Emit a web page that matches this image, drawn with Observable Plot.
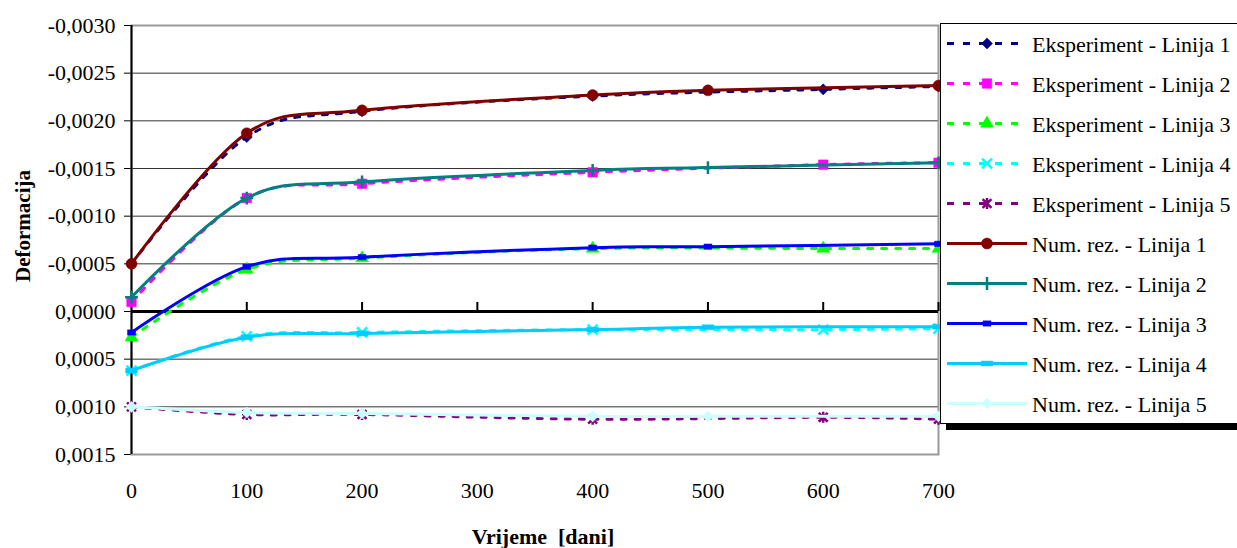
<!DOCTYPE html>
<html><head><meta charset="utf-8">
<script src="https://cdn.jsdelivr.net/npm/d3@7"></script>
<script src="https://cdn.jsdelivr.net/npm/@observablehq/plot@0.6"></script>
<style>
html,body{margin:0;padding:0;background:#fff;}
#chart{position:relative;width:1237px;height:548px;overflow:hidden;}
</style></head><body><div id="chart"></div>
<script>
// ---- data ----
const expDays = [0, 100, 200, 400, 600, 700];
const numDays = [0, 100, 200, 400, 500, 700];
const exp1 = [-0.00050, -0.00183, -0.00210, -0.00226, -0.00233, -0.00236];
const exp2 = [-0.00010, -0.00119, -0.00134, -0.00146, -0.00154, -0.00156];
const exp3 = [0.00027, -0.00044, -0.00056, -0.00066, -0.00066, -0.00066];
const exp4 = [0.00062, 0.00026, 0.00022, 0.00019, 0.00019, 0.00018];
const exp5 = [0.00100, 0.00108, 0.00108, 0.00113, 0.00111, 0.00113];
const num1 = [-0.00050, -0.00187, -0.00211, -0.00227, -0.00232, -0.00237];
const num2 = [-0.00015, -0.00119, -0.00136, -0.00148, -0.00151, -0.00156];
const num3 = [0.00022, -0.00047, -0.00057, -0.00067, -0.00068, -0.00071];
const num4 = [0.00062, 0.00027, 0.00023, 0.00019, 0.000165, 0.00016];
const num5 = [0.00100, 0.00106, 0.00107, 0.00110, 0.00110, 0.00110];
const seriesNames = [
  "Eksperiment - Linija 1", "Eksperiment - Linija 2", "Eksperiment - Linija 3",
  "Eksperiment - Linija 4", "Eksperiment - Linija 5",
  "Num. rez. - Linija 1", "Num. rez. - Linija 2", "Num. rez. - Linija 3",
  "Num. rez. - Linija 4", "Num. rez. - Linija 5"
];
const xTicks = [0, 100, 200, 300, 400, 500, 600, 700];
const yTicks = [-0.0030, -0.0025, -0.0020, -0.0015, -0.0010, -0.0005, 0, 0.0005, 0.0010, 0.0015];
const xLabel = "Vrijeme  [dani]";
const yLabel = "Deformacija";

// ---- styles ----
const symDash = {draw(c, s) {const k = Math.sqrt(s); const w = k * 0.6, h = k * 0.25;
  c.moveTo(-w, -h); c.lineTo(w, -h); c.lineTo(w, h); c.lineTo(-w, h); c.closePath();}};
const symSmall = {draw(c, s) {const k = Math.sqrt(s); const w = k * 0.45, h = k * 0.3;
  c.moveTo(-w, -h); c.lineTo(w, -h); c.lineTo(w, h); c.lineTo(-w, h); c.closePath();}};
const symAst = {draw(c, s) {const r = Math.sqrt(s) * 0.5;
  c.moveTo(-r, -r); c.lineTo(r, r); c.moveTo(r, -r); c.lineTo(-r, r);
  c.moveTo(0, -r * 1.25); c.lineTo(0, r * 1.25);}};
const styles = [
  {color: "#000080", dash: "5,9", sym: d3.symbolDiamond2, r: 5, filled: true},
  {color: "#FF00FF", dash: "5,9", sym: d3.symbolSquare, r: 5.4, filled: true},
  {color: "#00FF00", dash: "5,9", sym: d3.symbolTriangle, r: 4.8, filled: true},
  {color: "#00FFFF", dash: "5,9", sym: d3.symbolTimes, r: 4.6, filled: false},
  {color: "#800080", dash: "5,9", sym: symAst, r: 5, filled: false},
  {color: "#800000", dash: null, sym: d3.symbolCircle, r: 5.5, filled: true},
  {color: "#008080", dash: null, sym: d3.symbolPlus, r: 4.2, filled: false},
  {color: "#0000FF", dash: null, sym: symSmall, r: 5, filled: true},
  {color: "#00CCFF", dash: null, sym: symDash, r: 5.5, filled: true},
  {color: "#CCFFFF", dash: null, sym: d3.symbolDiamond2, r: 5, filled: true}
];
const values = [exp1, exp2, exp3, exp4, exp5, num1, num2, num3, num4, num5];
const series = values.map((v, i) => ({
  name: seriesNames[i],
  data: (i < 5 ? expDays : numDays).map((d, j) => ({day: d, v: v[j]})),
  ...styles[i]
}));
const curve = d3.curveCatmullRom.alpha(0);
const fmt = d => d.toFixed(4).replace(".", ",");

const marks = [
  Plot.ruleY(yTicks.filter(d => d !== 0 && d !== -0.0030 && d !== 0.0015), {stroke: "#333", strokeWidth: 1}),
  Plot.frame({stroke: "#999", strokeWidth: 2}),
  Plot.ruleY([0], {stroke: "#000", strokeWidth: 3}),
  Plot.ruleX(xTicks.slice(1), {x: d => d, y1: 0, y2: 0, insetTop: -9, stroke: "#000", strokeWidth: 2}),
  Plot.ruleX([0], {stroke: "#000", strokeWidth: 2})
];
for (const s of series) {
  marks.push(Plot.line(s.data, {x: "day", y: "v", stroke: s.color, strokeWidth: 3,
    strokeDasharray: s.dash || undefined, curve}));
  marks.push(Plot.dot(s.data, {x: "day", y: "v", symbol: s.sym, r: s.r,
    fill: s.filled ? s.color : "none", stroke: s.color, strokeWidth: s.filled ? 0.5 : 2.5}));
}

const svg = Plot.plot({
  width: 1237, height: 548,
  marginLeft: 131, marginRight: 299, marginTop: 25, marginBottom: 94,
  style: "font-family: 'Liberation Serif', 'Times New Roman', serif; font-size: 22px; background: #fff; color: #000; overflow: hidden;",
  x: {domain: [0, 700], ticks: xTicks, tickSize: 0, tickPadding: 28, label: null},
  y: {domain: [0.0015, -0.0030], ticks: yTicks, tickFormat: fmt, tickSize: 7, tickPadding: 9, label: null},
  marks
});
document.getElementById("chart").appendChild(svg);

// ---- axis titles and legend ----
const root = d3.select(svg);
root.append("text").attr("transform", "translate(30,226) rotate(-90)")
  .attr("text-anchor", "middle").attr("font-weight", "bold").attr("font-size", 21).text(yLabel);
root.append("text").attr("x", 543).attr("y", 544)
  .attr("text-anchor", "middle").attr("font-weight", "bold").attr("font-size", 22).text(xLabel);

const lg = root.append("g");
lg.append("rect").attr("x", 946).attr("y", 424).attr("width", 300).attr("height", 6).attr("fill", "#000");
lg.append("rect").attr("x", 940.5).attr("y", 23.5).attr("width", 310).attr("height", 400)
  .attr("fill", "#fff").attr("stroke", "#000").attr("stroke-width", 1);
series.forEach((s, i) => {
  const cy = 43.5 + 40 * i;
  lg.append("line").attr("x1", 947).attr("x2", 1027).attr("y1", cy).attr("y2", cy)
    .attr("stroke", s.color).attr("stroke-width", 3).attr("stroke-dasharray", s.dash ? "7,9" : null);
  lg.append("path").attr("transform", `translate(987,${cy})`)
    .attr("d", d3.symbol(s.sym, s.r * s.r * Math.PI)())
    .attr("fill", s.filled ? s.color : "none").attr("stroke", s.color)
    .attr("stroke-width", s.filled ? 0.5 : 2.5);
  lg.append("text").attr("x", 1032).attr("y", cy + 8).attr("text-anchor", "start")
    .attr("font-size", 22).attr("fill", "#000").text(s.name);
});
</script></body></html>
